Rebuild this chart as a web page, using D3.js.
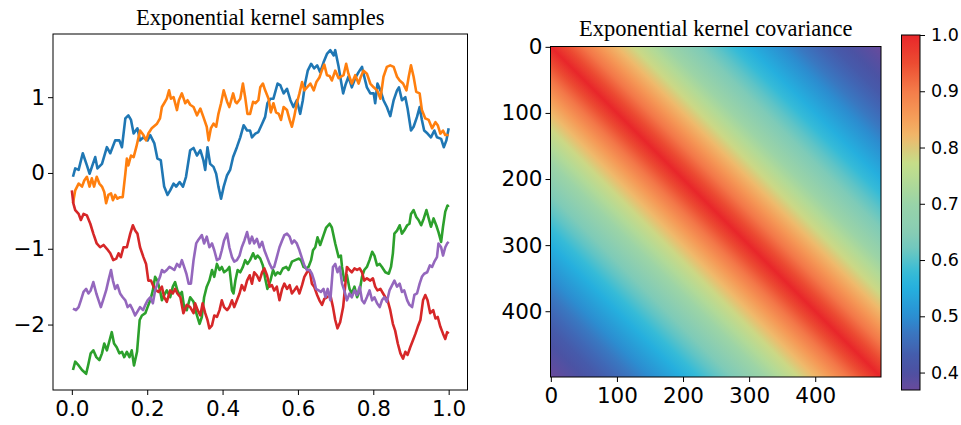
<!DOCTYPE html>
<html>
<head>
<meta charset="utf-8">
<script src="https://cdn.jsdelivr.net/npm/d3@7"></script>
<style>
  body { margin: 0; background: #fff; }
  svg { display: block; }
</style>
</head>
<body>
<div id="chart"></div>
<script>
// five sample paths, as [x, value]
const seriesBlue = [[0.003,-0.05],[0.009,0.06],[0.018,0.04],[0.029,0.26],[0.040,0.10],[0.047,-0.01],[0.062,0.21],[0.068,0.06],[0.080,0.12],[0.093,0.34],[0.102,0.26],[0.115,0.43],[0.126,0.43],[0.133,0.34],[0.142,0.72],[0.150,0.76],[0.157,0.70],[0.164,0.52],[0.174,0.59],[0.181,0.43],[0.190,0.47],[0.201,0.43],[0.208,0.50],[0.219,0.39],[0.227,0.19],[0.236,0.17],[0.245,-0.18],[0.254,-0.29],[0.261,-0.23],[0.270,-0.14],[0.277,-0.18],[0.286,-0.12],[0.295,-0.18],[0.303,-0.05],[0.314,0.30],[0.323,0.33],[0.332,0.23],[0.341,0.30],[0.349,0.17],[0.354,0.04],[0.360,0.34],[0.367,0.12],[0.376,0.08],[0.383,-0.01],[0.389,-0.18],[0.396,-0.34],[0.403,-0.18],[0.412,-0.03],[0.420,0.04],[0.428,0.21],[0.438,0.34],[0.447,0.47],[0.456,0.63],[0.465,0.56],[0.473,0.56],[0.478,0.47],[0.487,0.52],[0.495,0.54],[0.505,0.65],[0.513,0.74],[0.519,0.92],[0.527,0.98],[0.535,0.98],[0.546,1.18],[0.553,1.16],[0.562,1.05],[0.571,1.11],[0.580,0.96],[0.588,0.87],[0.597,0.96],[0.606,0.78],[0.613,0.96],[0.619,1.18],[0.626,1.35],[0.635,1.44],[0.643,1.38],[0.651,1.42],[0.659,1.33],[0.668,1.46],[0.677,1.57],[0.686,1.62],[0.695,1.55],[0.699,1.62],[0.708,1.40],[0.714,1.22],[0.720,1.05],[0.726,1.16],[0.734,1.27],[0.743,1.13],[0.752,1.25],[0.761,1.33],[0.770,1.40],[0.774,1.31],[0.783,1.13],[0.792,1.05],[0.801,1.05],[0.805,0.92],[0.811,1.18],[0.819,1.09],[0.827,0.96],[0.836,0.87],[0.845,0.75],[0.854,0.96],[0.863,1.09],[0.868,1.13],[0.876,0.96],[0.885,1.00],[0.891,0.85],[0.900,0.56],[0.907,0.61],[0.916,0.74],[0.923,0.87],[0.929,0.70],[0.935,0.56],[0.944,0.52],[0.953,0.47],[0.962,0.56],[0.969,0.47],[0.980,0.45],[0.987,0.34],[0.994,0.43],[1.000,0.59]];

const seriesOrange = [[0.003,-0.40],[0.009,-0.23],[0.018,-0.14],[0.027,-0.18],[0.033,-0.10],[0.040,-0.05],[0.047,-0.18],[0.053,-0.07],[0.059,-0.18],[0.066,-0.05],[0.073,-0.14],[0.080,-0.18],[0.086,-0.25],[0.091,-0.40],[0.097,-0.29],[0.104,-0.27],[0.109,-0.36],[0.115,-0.29],[0.121,-0.34],[0.128,-0.32],[0.135,-0.32],[0.142,-0.01],[0.146,0.19],[0.150,0.10],[0.157,0.23],[0.164,0.21],[0.171,0.34],[0.177,0.47],[0.181,0.56],[0.190,0.50],[0.197,0.43],[0.203,0.52],[0.212,0.59],[0.226,0.65],[0.234,0.72],[0.239,0.87],[0.245,0.92],[0.252,0.98],[0.258,1.09],[0.263,0.98],[0.270,1.00],[0.279,0.83],[0.284,0.96],[0.292,1.05],[0.301,0.92],[0.307,0.96],[0.314,0.90],[0.323,0.87],[0.332,0.76],[0.341,0.85],[0.349,0.74],[0.358,0.61],[0.363,0.43],[0.369,0.59],[0.376,0.65],[0.383,0.61],[0.389,0.78],[0.396,0.92],[0.403,1.09],[0.412,0.94],[0.418,0.87],[0.428,1.05],[0.434,0.94],[0.438,0.92],[0.447,0.98],[0.454,1.18],[0.460,1.00],[0.466,0.78],[0.473,0.78],[0.481,0.94],[0.487,0.92],[0.495,0.96],[0.500,1.13],[0.507,1.18],[0.513,1.09],[0.522,0.98],[0.528,0.80],[0.535,0.92],[0.542,0.80],[0.549,0.78],[0.555,0.70],[0.562,0.87],[0.571,0.83],[0.578,0.70],[0.584,0.61],[0.590,0.74],[0.597,0.92],[0.604,1.05],[0.611,1.20],[0.617,1.09],[0.624,1.13],[0.633,1.18],[0.642,1.09],[0.649,1.20],[0.657,1.26],[0.664,1.36],[0.670,1.43],[0.677,1.29],[0.684,1.28],[0.690,1.22],[0.699,1.35],[0.708,1.25],[0.721,1.29],[0.728,1.44],[0.734,1.31],[0.743,1.18],[0.752,1.29],[0.761,1.18],[0.767,1.27],[0.774,1.35],[0.783,1.31],[0.792,1.18],[0.801,1.13],[0.810,1.09],[0.819,0.98],[0.827,1.27],[0.836,1.40],[0.845,1.42],[0.854,1.40],[0.863,1.27],[0.870,1.22],[0.879,1.18],[0.888,1.09],[0.894,1.27],[0.900,1.42],[0.907,1.27],[0.914,1.07],[0.923,1.05],[0.929,0.83],[0.938,0.72],[0.947,0.70],[0.956,0.59],[0.965,0.67],[0.971,0.63],[0.978,0.52],[0.985,0.56],[0.991,0.50],[1.000,0.50]];

const seriesGreen = [[0.003,-2.60],[0.009,-2.49],[0.018,-2.54],[0.027,-2.60],[0.038,-2.65],[0.044,-2.52],[0.050,-2.38],[0.057,-2.34],[0.065,-2.43],[0.073,-2.47],[0.080,-2.38],[0.086,-2.25],[0.093,-2.34],[0.100,-2.21],[0.106,-2.10],[0.112,-2.25],[0.119,-2.30],[0.126,-2.38],[0.133,-2.36],[0.139,-2.43],[0.146,-2.36],[0.153,-2.43],[0.159,-2.34],[0.165,-2.54],[0.173,-2.36],[0.180,-1.94],[0.186,-1.88],[0.195,-1.85],[0.201,-1.77],[0.208,-1.68],[0.215,-1.55],[0.221,-1.37],[0.227,-1.42],[0.234,-1.55],[0.239,-1.68],[0.245,-1.61],[0.252,-1.55],[0.261,-1.64],[0.268,-1.50],[0.274,-1.44],[0.280,-1.55],[0.286,-1.61],[0.292,-1.57],[0.298,-1.77],[0.305,-1.81],[0.314,-1.64],[0.323,-1.70],[0.332,-1.88],[0.339,-1.99],[0.345,-1.90],[0.351,-1.64],[0.358,-1.50],[0.365,-1.42],[0.372,-1.28],[0.378,-1.37],[0.385,-1.20],[0.392,-1.28],[0.398,-1.24],[0.404,-1.31],[0.412,-1.28],[0.418,-1.24],[0.425,-1.55],[0.429,-1.59],[0.434,-1.42],[0.440,-1.28],[0.447,-1.31],[0.454,-1.24],[0.460,-1.15],[0.466,-1.20],[0.473,-1.15],[0.481,-1.06],[0.487,-1.13],[0.493,-1.09],[0.500,-1.13],[0.507,-1.22],[0.513,-1.39],[0.519,-1.53],[0.527,-1.42],[0.534,-1.28],[0.540,-1.35],[0.546,-1.31],[0.553,-1.33],[0.560,-1.26],[0.569,-1.24],[0.575,-1.28],[0.584,-1.17],[0.593,-1.15],[0.602,-1.13],[0.608,-1.15],[0.615,-1.24],[0.622,-1.26],[0.628,-1.24],[0.635,-1.15],[0.640,-1.02],[0.646,-0.98],[0.652,-0.85],[0.659,-0.95],[0.668,-0.82],[0.675,-0.72],[0.684,-0.67],[0.690,-0.72],[0.699,-0.93],[0.708,-1.11],[0.714,-1.09],[0.717,-1.24],[0.723,-1.42],[0.730,-1.35],[0.737,-1.53],[0.743,-1.59],[0.750,-1.50],[0.757,-1.64],[0.764,-1.55],[0.770,-1.37],[0.776,-1.28],[0.783,-1.24],[0.790,-1.15],[0.797,-1.04],[0.803,-1.09],[0.810,-1.22],[0.817,-1.20],[0.823,-1.24],[0.832,-1.31],[0.841,-1.33],[0.847,-1.24],[0.852,-1.06],[0.856,-0.80],[0.863,-0.76],[0.870,-0.69],[0.876,-0.80],[0.882,-0.76],[0.890,-0.69],[0.896,-0.67],[0.900,-0.54],[0.907,-0.49],[0.914,-0.58],[0.920,-0.62],[0.927,-0.69],[0.934,-0.60],[0.941,-0.49],[0.947,-0.60],[0.953,-0.71],[0.960,-0.60],[0.967,-0.69],[0.973,-0.78],[0.980,-0.91],[0.985,-0.71],[0.991,-0.51],[0.997,-0.43],[1.000,-0.45]];

const seriesRed = [[0.000,-0.23],[0.004,-0.40],[0.009,-0.49],[0.018,-0.54],[0.024,-0.62],[0.031,-0.54],[0.040,-0.56],[0.049,-0.67],[0.057,-0.80],[0.066,-0.93],[0.075,-0.98],[0.084,-0.95],[0.093,-1.00],[0.102,-1.06],[0.110,-1.15],[0.118,-1.13],[0.124,-1.06],[0.130,-1.11],[0.137,-0.98],[0.146,-0.98],[0.155,-0.80],[0.162,-0.69],[0.168,-0.76],[0.174,-0.80],[0.181,-0.98],[0.190,-1.11],[0.197,-1.20],[0.203,-1.42],[0.210,-1.42],[0.217,-1.50],[0.224,-1.55],[0.230,-1.57],[0.239,-1.50],[0.245,-1.64],[0.252,-1.70],[0.261,-1.55],[0.268,-1.59],[0.274,-1.53],[0.280,-1.59],[0.288,-1.64],[0.296,-1.85],[0.305,-1.74],[0.314,-1.77],[0.323,-1.85],[0.327,-1.72],[0.334,-1.81],[0.341,-1.88],[0.347,-1.72],[0.354,-1.85],[0.360,-1.94],[0.365,-2.05],[0.372,-2.01],[0.378,-1.88],[0.385,-1.90],[0.392,-1.81],[0.398,-1.68],[0.404,-1.77],[0.412,-1.81],[0.418,-1.77],[0.425,-1.68],[0.431,-1.77],[0.438,-1.68],[0.445,-1.59],[0.451,-1.48],[0.458,-1.55],[0.465,-1.42],[0.472,-1.35],[0.478,-1.46],[0.484,-1.31],[0.491,-1.35],[0.498,-1.42],[0.505,-1.31],[0.511,-1.26],[0.518,-1.35],[0.525,-1.50],[0.531,-1.48],[0.537,-1.55],[0.544,-1.50],[0.551,-1.68],[0.558,-1.53],[0.564,-1.46],[0.571,-1.53],[0.578,-1.48],[0.584,-1.59],[0.590,-1.55],[0.597,-1.50],[0.604,-1.59],[0.611,-1.48],[0.617,-1.37],[0.624,-1.31],[0.631,-1.28],[0.637,-1.46],[0.643,-1.50],[0.651,-1.61],[0.657,-1.68],[0.664,-1.74],[0.670,-1.66],[0.677,-1.64],[0.686,-1.61],[0.693,-1.77],[0.699,-1.94],[0.705,-2.05],[0.712,-1.97],[0.720,-1.77],[0.726,-1.46],[0.730,-1.24],[0.737,-1.28],[0.743,-1.31],[0.750,-1.26],[0.757,-1.28],[0.764,-1.26],[0.770,-1.31],[0.776,-1.42],[0.783,-1.39],[0.792,-1.42],[0.799,-1.39],[0.805,-1.50],[0.811,-1.55],[0.819,-1.53],[0.826,-1.59],[0.832,-1.64],[0.838,-1.68],[0.845,-1.81],[0.852,-1.99],[0.858,-2.08],[0.865,-2.25],[0.872,-2.38],[0.879,-2.45],[0.885,-2.36],[0.891,-2.40],[0.898,-2.30],[0.905,-2.21],[0.912,-2.12],[0.918,-2.03],[0.925,-1.94],[0.932,-1.68],[0.938,-1.61],[0.944,-1.68],[0.951,-1.85],[0.959,-1.81],[0.965,-1.92],[0.971,-1.90],[0.978,-2.03],[0.985,-2.12],[0.991,-2.19],[0.996,-2.10],[1.000,-2.12]];

const seriesPurple = [[0.003,-1.79],[0.011,-1.81],[0.018,-1.77],[0.024,-1.68],[0.031,-1.57],[0.038,-1.53],[0.044,-1.59],[0.050,-1.55],[0.057,-1.44],[0.065,-1.59],[0.071,-1.68],[0.077,-1.77],[0.084,-1.66],[0.091,-1.55],[0.097,-1.42],[0.104,-1.28],[0.109,-1.42],[0.115,-1.53],[0.121,-1.48],[0.128,-1.59],[0.135,-1.64],[0.142,-1.68],[0.148,-1.77],[0.155,-1.74],[0.162,-1.81],[0.168,-1.88],[0.174,-1.83],[0.181,-1.77],[0.189,-1.81],[0.195,-1.74],[0.201,-1.68],[0.208,-1.64],[0.215,-1.72],[0.221,-1.55],[0.227,-1.46],[0.234,-1.37],[0.239,-1.28],[0.245,-1.31],[0.252,-1.28],[0.259,-1.24],[0.266,-1.26],[0.272,-1.28],[0.279,-1.20],[0.286,-1.24],[0.292,-1.15],[0.298,-1.24],[0.304,-1.33],[0.310,-1.46],[0.316,-1.46],[0.323,-1.15],[0.330,-0.93],[0.336,-0.88],[0.345,-0.82],[0.351,-0.93],[0.358,-0.84],[0.365,-0.98],[0.372,-0.93],[0.378,-1.02],[0.385,-1.15],[0.392,-1.13],[0.398,-1.02],[0.404,-0.89],[0.412,-0.80],[0.418,-0.98],[0.425,-1.11],[0.431,-1.17],[0.438,-1.15],[0.445,-1.09],[0.451,-0.98],[0.458,-0.89],[0.465,-0.78],[0.472,-0.93],[0.478,-0.84],[0.484,-0.93],[0.491,-0.87],[0.498,-0.98],[0.505,-0.91],[0.511,-1.02],[0.518,-1.11],[0.525,-1.20],[0.531,-1.26],[0.537,-1.24],[0.544,-1.11],[0.551,-0.98],[0.558,-0.89],[0.564,-0.82],[0.571,-0.80],[0.578,-0.84],[0.584,-0.93],[0.590,-0.89],[0.597,-0.93],[0.604,-1.02],[0.611,-1.13],[0.617,-1.22],[0.624,-1.28],[0.631,-1.28],[0.637,-1.33],[0.643,-1.42],[0.648,-1.53],[0.655,-1.55],[0.661,-1.57],[0.668,-1.53],[0.673,-1.64],[0.679,-1.53],[0.686,-1.68],[0.693,-1.24],[0.699,-1.20],[0.705,-1.31],[0.711,-1.24],[0.717,-1.46],[0.723,-1.55],[0.730,-1.68],[0.737,-1.59],[0.743,-1.64],[0.750,-1.55],[0.757,-1.61],[0.764,-1.50],[0.770,-1.68],[0.776,-1.72],[0.783,-1.64],[0.790,-1.55],[0.797,-1.68],[0.803,-1.64],[0.810,-1.72],[0.817,-1.77],[0.823,-1.68],[0.829,-1.64],[0.836,-1.70],[0.843,-1.55],[0.850,-1.48],[0.856,-1.42],[0.863,-1.50],[0.870,-1.46],[0.876,-1.57],[0.882,-1.55],[0.890,-1.68],[0.896,-1.74],[0.903,-1.77],[0.909,-1.61],[0.916,-1.59],[0.923,-1.46],[0.929,-1.37],[0.935,-1.33],[0.943,-1.31],[0.950,-1.22],[0.956,-1.24],[0.962,-1.17],[0.969,-1.11],[0.973,-0.93],[0.980,-0.98],[0.985,-1.09],[0.991,-0.98],[0.996,-0.93],[1.000,-0.91]];

const allSeries = [seriesBlue, seriesOrange, seriesGreen, seriesRed, seriesPurple];
const seriesColors = ["#1f77b4", "#ff7f0e", "#2ca02c", "#d62728", "#9467bd"];

const sampleXTicks = [0, 0.2, 0.4, 0.6, 0.8, 1.0];
const sampleYTicks = [-2, -1, 0, 1];

// covariance as a function of index lag |i - j| (the matrix is constant along diagonals)
const nPoints = 500;
const covLags = [0, 25, 50, 75, 100, 125, 150, 175, 200, 225, 250, 275, 300, 325, 350, 375, 400, 425, 450, 475, 499];
const covValues = [1.000, 0.951, 0.905, 0.861, 0.819, 0.779, 0.741, 0.705, 0.670, 0.638, 0.607, 0.577, 0.549, 0.522, 0.497, 0.472, 0.449, 0.427, 0.407, 0.387, 0.369];
const matrixTicks = [0, 100, 200, 300, 400];
const colorbarTicks = [0.4, 0.5, 0.6, 0.7, 0.8, 0.9, 1.0];

// colormap
const cmapValues = [0.368, 0.40, 0.43, 0.47, 0.50, 0.55, 0.58, 0.62, 0.65, 0.70, 0.72, 0.77, 0.80, 0.82, 0.85, 0.90, 0.95, 1.00];
const cmapColors = ["#6a4a9c", "#4d50a2", "#455cac", "#3a76c0", "#2a8fd2", "#25b0de", "#38bcd6", "#70c8bf", "#88cdb4", "#98d3a8", "#a6d79e", "#c4df8a", "#dcc878", "#f0b86a", "#f5a05a", "#f47c4a", "#ec4c32", "#e8262a"];

const W = 961, H = 425;
const tickFont = "'DejaVu Sans', sans-serif";
const titleFont = "'Liberation Serif', 'Times New Roman', serif";
const tickSize = 21.5;

const svg = d3.select("#chart").append("svg")
    .attr("width", W)
    .attr("height", H);
svg.append("rect").attr("width", W).attr("height", H).attr("fill", "#fff");

function styleAxis(g, size) {
  g.select(".domain").remove();
  g.selectAll(".tick line").attr("stroke", "#000").attr("stroke-width", 1);
  g.selectAll(".tick text")
      .attr("fill", "#000")
      .style("font-family", tickFont)
      .style("font-size", (size || tickSize) + "px");
}

// ---------- left: samples ----------
const L = {left: 53, right: 467.5, top: 34, bottom: 390};

const x = d3.scaleLinear().domain([-0.05, 1.05]).range([L.left, L.right]);
const yMin = d3.min(allSeries, s => d3.min(s, d => d[1]));
const yMax = d3.max(allSeries, s => d3.max(s, d => d[1]));
const yPad = (yMax - yMin) * 0.05;
const y = d3.scaleLinear().domain([yMin - yPad, yMax + yPad]).range([L.bottom, L.top]);

const left = svg.append("g");

left.append("defs").append("clipPath").attr("id", "clipL")
  .append("rect")
    .attr("x", L.left).attr("y", L.top)
    .attr("width", L.right - L.left).attr("height", L.bottom - L.top);

const line = d3.line()
    .x(d => x(d[0]))
    .y(d => y(d[1]));

left.append("g")
    .attr("clip-path", "url(#clipL)")
  .selectAll("path")
  .data(allSeries)
  .enter()
  .append("path")
    .attr("d", line)
    .attr("fill", "none")
    .attr("stroke", (d, i) => seriesColors[i])
    .attr("stroke-width", 2.6)
    .attr("stroke-linejoin", "round");

left.append("rect")
    .attr("x", L.left).attr("y", L.top)
    .attr("width", L.right - L.left).attr("height", L.bottom - L.top)
    .attr("fill", "none")
    .attr("stroke", "#000")
    .attr("stroke-width", 1);

left.append("g")
    .attr("transform", "translate(0," + L.bottom + ")")
    .call(d3.axisBottom(x).tickValues(sampleXTicks).tickFormat(d3.format(".1f")).tickSize(5).tickPadding(6))
    .call(styleAxis);

left.append("g")
    .attr("transform", "translate(" + L.left + ",0)")
    .call(d3.axisLeft(y).tickValues(sampleYTicks).tickFormat(d3.format("d")).tickSize(5).tickPadding(3))
    .call(styleAxis);

left.append("text")
    .attr("x", (L.left + L.right) / 2)
    .attr("y", 25)
    .attr("text-anchor", "middle")
    .style("font-family", titleFont)
    .style("font-size", "22.5px")
    .text("Exponential kernel samples");

// ---------- right: covariance matrix ----------
const R = {left: 550.5, right: 881, top: 46.5, bottom: 377};

const mx = d3.scaleLinear().domain([-0.5, nPoints - 0.5]).range([R.left, R.right]);
const my = d3.scaleLinear().domain([-0.5, nPoints - 0.5]).range([R.top, R.bottom]);

const color = d3.scaleLinear()
    .domain(cmapValues)
    .range(cmapColors)
    .interpolate(d3.interpolateRgb)
    .clamp(true);

const defs = svg.append("defs");

// gradient runs from the top-right corner (lag n-1) through the diagonal (lag 0) to bottom-left (lag n-1)
const lagOffset = d3.scaleLinear().domain([0, nPoints - 1]).range([0.5, 0]);
const stops = covLags.map((lag, i) => ({offset: lagOffset(lag), value: covValues[i]}))
    .concat(covLags.map((lag, i) => ({offset: 1 - lagOffset(lag), value: covValues[i]})))
    .sort((a, b) => a.offset - b.offset);

defs.append("linearGradient")
    .attr("id", "covGrad")
    .attr("gradientUnits", "userSpaceOnUse")
    .attr("x1", mx(nPoints - 1)).attr("y1", my(0))
    .attr("x2", mx(0)).attr("y2", my(nPoints - 1))
  .selectAll("stop")
  .data(stops)
  .enter()
  .append("stop")
    .attr("offset", d => d.offset)
    .attr("stop-color", d => color(d.value));

const right = svg.append("g");

right.append("rect")
    .attr("x", R.left).attr("y", R.top)
    .attr("width", R.right - R.left).attr("height", R.bottom - R.top)
    .attr("fill", "url(#covGrad)");

right.append("rect")
    .attr("x", R.left).attr("y", R.top)
    .attr("width", R.right - R.left).attr("height", R.bottom - R.top)
    .attr("fill", "none")
    .attr("stroke", "#000")
    .attr("stroke-width", 1);

right.append("g")
    .attr("transform", "translate(0," + R.bottom + ")")
    .call(d3.axisBottom(mx).tickValues(matrixTicks).tickFormat(d3.format("d")).tickSize(5).tickPadding(6))
    .call(styleAxis);

right.append("g")
    .attr("transform", "translate(" + R.left + ",0)")
    .call(d3.axisLeft(my).tickValues(matrixTicks).tickFormat(d3.format("d")).tickSize(5).tickPadding(3))
    .call(styleAxis);

right.append("text")
    .attr("x", (R.left + R.right) / 2)
    .attr("y", 36)
    .attr("text-anchor", "middle")
    .style("font-family", titleFont)
    .style("font-size", "22.5px")
    .text("Exponential kernel covariance");

// ---------- colourbar ----------
const C = {left: 901.5, right: 920, top: 35, bottom: 390};
const cbScale = d3.scaleLinear()
    .domain([d3.min(covValues), d3.max(covValues)])
    .range([C.bottom, C.top]);

defs.append("linearGradient")
    .attr("id", "cbGrad")
    .attr("x1", 0).attr("y1", 1)
    .attr("x2", 0).attr("y2", 0)
  .selectAll("stop")
  .data(d3.range(0, 1.0001, 0.02))
  .enter()
  .append("stop")
    .attr("offset", d => d)
    .attr("stop-color", d => color(cbScale.invert(C.bottom - d * (C.bottom - C.top))));

svg.append("rect")
    .attr("x", C.left).attr("y", C.top)
    .attr("width", C.right - C.left).attr("height", C.bottom - C.top)
    .attr("fill", "url(#cbGrad)")
    .attr("stroke", "#000")
    .attr("stroke-width", 1);

// colourbar labels are smaller so they fit at the right edge
svg.append("g")
    .attr("transform", "translate(" + C.right + ",0)")
    .call(d3.axisRight(cbScale).tickValues(colorbarTicks).tickFormat(d3.format(".1f")).tickSize(5).tickPadding(6))
    .call(g => styleAxis(g, 17.5));
</script>
</body>
</html>
